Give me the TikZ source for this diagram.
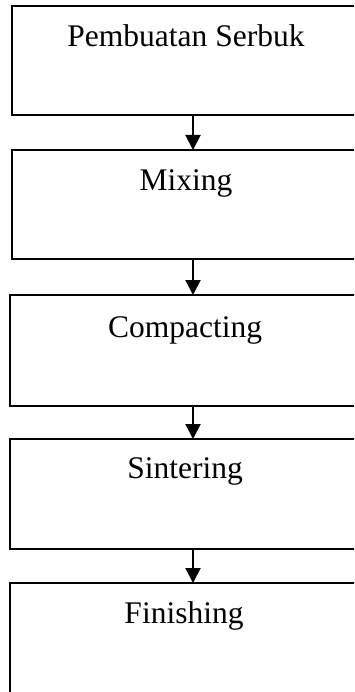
\documentclass[tikz,border=0pt]{standalone}
\usepackage{fontspec}
\setmainfont{Liberation Serif}
\usetikzlibrary{arrows.meta}
\begin{document}
\begin{tikzpicture}[x=1pt,y=1pt,
  box/.style={draw, line width=1.7pt, rectangle, inner sep=0pt, outer sep=0pt},
  lbl/.style={anchor=base, inner sep=0pt, font=\fontsize{31.5pt}{36pt}\selectfont},
  arr/.style={line width=2pt, -{Triangle[width=15pt,length=15pt]}}]
\useasboundingbox (0,0) rectangle (354,-692);
\clip (0,0) rectangle (354,-692);
\node[box, minimum width=362pt, minimum height=109pt] (b1) at (193,-60.5) {};
\node[box, minimum width=362pt, minimum height=109pt] (b2) at (193,-204.5) {};
\node[box, minimum width=366pt, minimum height=111pt] (b3) at (193,-350.5) {};
\node[box, minimum width=366pt, minimum height=110pt] (b4) at (193,-494) {};
\node[box, minimum width=366pt, minimum height=140pt] (b5) at (193,-653) {};
\node[lbl] (t1) at (186,-47) {Pembuatan Serbuk};
\node[lbl] (t2) at (186,-191) {Mixing};
\node[lbl] (t3) at (185,-337) {Compacting};
\node[lbl] (t4) at (185,-478) {Sintering};
\node[lbl] (t5) at (184,-623) {Finishing};
\draw[arr] (b1.south) -- (b2.north);
\draw[arr] (b2.south) -- (b3.north);
\draw[arr] (b3.south) -- (b4.north);
\draw[arr] (b4.south) -- (b5.north);
\end{tikzpicture}
\end{document}
